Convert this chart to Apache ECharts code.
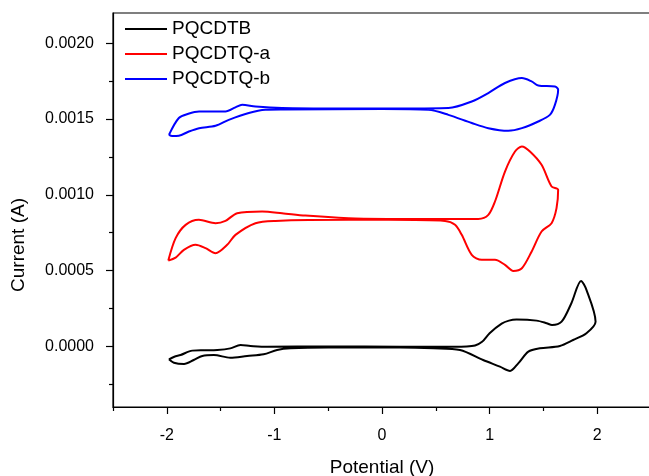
<!DOCTYPE html>
<html>
<head>
<meta charset="utf-8">
<script src="https://cdn.jsdelivr.net/npm/echarts@6/dist/echarts.min.js"></script>
<style>html,body{margin:0;padding:0;background:#fff}#c{width:649px;height:476px}</style>
</head>
<body>
<div id="c"></div>
<script>
// Cyclic voltammograms: [potential (V), current (A)] in scan order (closed loops)
const seriesNames = ['PQCDTB', 'PQCDTQ-a', 'PQCDTQ-b'];

const pqcdtb = [
  [-1.98, -0.000085], [-1.93, -0.000068], [-1.872, -0.000057], [-1.763, -0.000028],
  [-1.65, -0.000026], [-1.53, -0.000024], [-1.41, -0.000013], [-1.315, 0.000009],
  [-1.223, 0.000003], [-1.068, -0.000003], [-0.5, 0.000000], [0.17, -0.000002],
  [0.5, -0.000002], [0.787, 0.000000], [0.865, 0.000006], [0.93, 0.000030],
  [1.0, 0.000087], [1.112, 0.000150], [1.18, 0.000170], [1.25, 0.000177],
  [1.437, 0.000170], [1.53, 0.000153], [1.58, 0.000141], [1.669, 0.000163],
  [1.76, 0.000285], [1.85, 0.000432], [1.90, 0.000373], [1.985, 0.000163],
  [1.90, 0.000087], [1.776, 0.000042], [1.653, 0.000003], [1.467, -0.000013],
  [1.36, -0.000035], [1.266, -0.000112], [1.19, -0.000162], [1.096, -0.000134],
  [0.94, -0.000090], [0.725, -0.000024], [0.478, -0.000013], [0.17, -0.000008],
  [-0.5, -0.000008], [-0.85, -0.000013], [-0.975, -0.000024], [-1.10, -0.000052],
  [-1.254, -0.000063], [-1.41, -0.000075], [-1.563, -0.000057], [-1.67, -0.000063],
  [-1.75, -0.000090], [-1.84, -0.000116], [-1.934, -0.000108], [-1.98, -0.000085]
];

const pqcdtqA = [
  [-1.986, 0.000566], [-1.918, 0.000714], [-1.825, 0.000802], [-1.702, 0.000835],
  [-1.547, 0.000813], [-1.455, 0.000828], [-1.346, 0.000879], [-1.114, 0.000890],
  [-0.929, 0.000879], [-0.712, 0.000863], [-0.311, 0.000846], [0.06, 0.000841],
  [0.5, 0.000840], [0.895, 0.000841], [0.988, 0.000868], [1.05, 0.000956],
  [1.143, 0.001154], [1.236, 0.001286], [1.30, 0.001319], [1.375, 0.001286],
  [1.483, 0.001198], [1.576, 0.001055], [1.637, 0.001033], [1.622, 0.000912],
  [1.576, 0.000813], [1.483, 0.000758], [1.39, 0.000625], [1.30, 0.000516],
  [1.22, 0.000498], [1.143, 0.000538], [1.05, 0.000571], [0.927, 0.000571],
  [0.834, 0.000604], [0.741, 0.000736], [0.679, 0.000802], [0.586, 0.000828],
  [0.06, 0.000835], [-0.311, 0.000835], [-0.991, 0.000828], [-1.176, 0.000813],
  [-1.362, 0.000736], [-1.439, 0.000670], [-1.547, 0.000615], [-1.64, 0.000648],
  [-1.733, 0.000670], [-1.841, 0.000637], [-1.918, 0.000586], [-1.986, 0.000566]
];

const pqcdtqB = [
  [-1.98, 0.001396], [-1.888, 0.001507], [-1.80, 0.001535], [-1.70, 0.001550],
  [-1.455, 0.001550], [-1.362, 0.001577], [-1.30, 0.001594], [-1.176, 0.001583],
  [-0.929, 0.001573], [-0.4, 0.001570], [0.2, 0.001570], [0.617, 0.001573],
  [0.834, 0.001616], [0.988, 0.001672], [1.143, 0.001738], [1.30, 0.001771],
  [1.39, 0.001749], [1.452, 0.001722], [1.607, 0.001715], [1.637, 0.001694],
  [1.607, 0.001594], [1.56, 0.001528], [1.452, 0.001484], [1.30, 0.001440],
  [1.173, 0.001423], [0.988, 0.001440], [0.834, 0.001474], [0.617, 0.001528],
  [0.431, 0.001561], [0.0, 0.001566], [-0.914, 0.001563], [-1.083, 0.001561],
  [-1.238, 0.001540], [-1.424, 0.001495], [-1.547, 0.001456], [-1.70, 0.001440],
  [-1.795, 0.001418], [-1.888, 0.001390], [-1.95, 0.001388], [-1.98, 0.001396]
];

const xMajorTicks = [-2, -1, 0, 1, 2];
const xMinorTicks = [-2.5, -1.5, -0.5, 0.5, 1.5, 2.5];
const yMajorTicks = [0, 0.0005, 0.001, 0.0015, 0.002];
const yMinorTicks = [-0.00025, 0.00025, 0.00075, 0.00125, 0.00175];

const FONT = 'Liberation Sans, Arial, Helvetica, sans-serif';
const colors = ['#000000', '#ff0000', '#0000ff'];

const chart = echarts.init(document.getElementById('c'), null, {renderer: 'canvas'});

const axisLineStyle = {color: '#000', width: 1.2};

chart.setOption({
  animation: false,
  backgroundColor: '#fff',
  grid: {left: 113, right: -2, top: 13, bottom: 69, show: true, borderColor: '#000', borderWidth: 1.2,
    containLabel: false, outerBoundsMode: 'none'},
  legend: {
    orient: 'vertical', left: 125, top: 19, padding: 0,
    itemWidth: 42, itemHeight: 2, itemGap: 5, icon: 'rect',
    textStyle: {fontFamily: FONT, fontSize: 19, color: '#000', lineHeight: 20},
    data: seriesNames.map((n, i) => ({name: n, itemStyle: {color: colors[i]}}))
  },
  xAxis: [{
    type: 'value', min: -2.5, max: 2.5, gridIndex: 0, position: 'bottom',
    name: 'Potential (V)', nameLocation: 'middle', nameGap: 51,
    nameTextStyle: {fontFamily: FONT, fontSize: 19, color: '#000'},
    axisLine: {show: true, onZero: false, lineStyle: axisLineStyle},
    axisTick: {show: true, length: 7, inside: false, customValues: xMajorTicks, lineStyle: axisLineStyle},
    axisLabel: {show: true, margin: 21, customValues: xMajorTicks, fontFamily: FONT, fontSize: 16, color: '#000',
      formatter: v => String(v)},
    splitLine: {show: false}
  }, {
    type: 'value', min: -2.5, max: 2.5, gridIndex: 0, position: 'bottom', offset: 0,
    axisLine: {show: false, onZero: false},
    axisTick: {show: true, length: 4, inside: false, customValues: xMinorTicks, lineStyle: axisLineStyle},
    axisLabel: {show: false},
    splitLine: {show: false}
  }],
  yAxis: [{
    type: 'value', min: -0.0004, max: 0.0022, gridIndex: 0, position: 'left',
    name: 'Current (A)', nameLocation: 'middle', nameGap: 85, nameRotate: 90,
    nameTextStyle: {fontFamily: FONT, fontSize: 19, color: '#000', padding: [0, 70, 0, 0]},
    axisLine: {show: true, onZero: false, lineStyle: axisLineStyle},
    axisTick: {show: true, length: 7, inside: false, customValues: yMajorTicks, lineStyle: axisLineStyle},
    axisLabel: {show: true, margin: 19, customValues: yMajorTicks, fontFamily: FONT, fontSize: 16, color: '#000',
      formatter: v => v.toFixed(4)},
    splitLine: {show: false}
  }, {
    type: 'value', min: -0.0004, max: 0.0022, gridIndex: 0, position: 'left', offset: 0,
    axisLine: {show: false, onZero: false},
    axisTick: {show: true, length: 4, inside: false, customValues: yMinorTicks, lineStyle: axisLineStyle},
    axisLabel: {show: false},
    splitLine: {show: false}
  }],
  series: [pqcdtb, pqcdtqA, pqcdtqB].map((d, i) => ({
    name: seriesNames[i], type: 'line', xAxisIndex: 0, yAxisIndex: 0,
    data: d, showSymbol: false, symbol: 'none', smooth: 0.3,
    lineStyle: {color: colors[i], width: 2}, itemStyle: {color: colors[i]}
  }))
});
</script>
</body>
</html>
